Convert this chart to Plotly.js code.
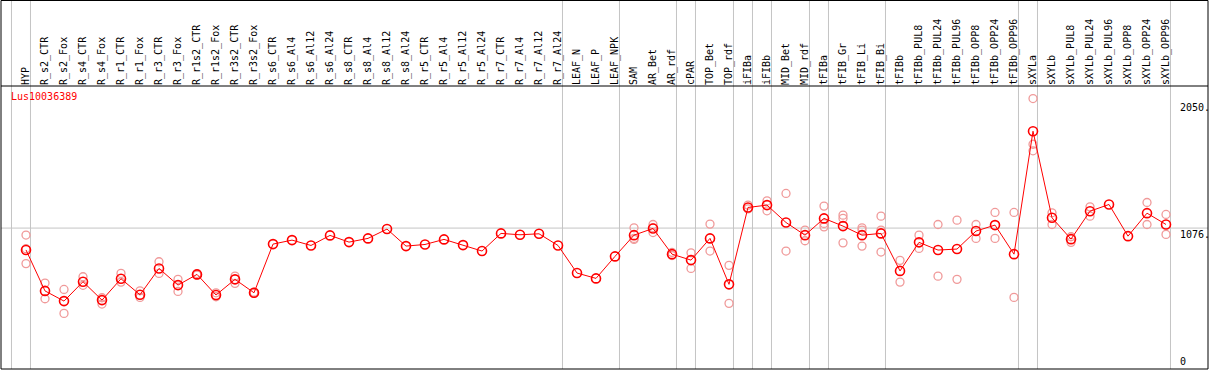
<!DOCTYPE html>
<html>
<head>
<meta charset="utf-8">
<script src="https://cdn.plot.ly/plotly-3.0.1.min.js"></script>
<style>
  html, body { margin: 0; padding: 0; background: #ffffff; }
  #chart { width: 1209px; height: 370px; }
</style>
</head>
<body>
<div id="chart"></div>
<script>
const categories = ["HYP","R_s2_CTR","R_s2_Fox","R_s4_CTR","R_s4_Fox","R_r1_CTR","R_r1_Fox","R_r3_CTR","R_r3_Fox","R_r1s2_CTR","R_r1s2_Fox","R_r3s2_CTR","R_r3s2_Fox","R_s6_CTR","R_s6_Al4","R_s6_Al12","R_s6_Al24","R_s8_CTR","R_s8_Al4","R_s8_Al12","R_s8_Al24","R_r5_CTR","R_r5_Al4","R_r5_Al12","R_r5_Al24","R_r7_CTR","R_r7_Al4","R_r7_Al12","R_r7_Al24","LEAF_N","LEAF_P","LEAF_NPK","SAM","AR_Bet","AR_rdf","cPAR","TOP_Bet","TOP_rdf","iFIBa","iFIBb","MID_Bet","MID_rdf","tFIBa","tFIB_Gr","tFIB_Li","tFIB_Bi","tFIBb","tFIBb_PUL8","tFIBb_PUL24","tFIBb_PUL96","tFIBb_OPP8","tFIBb_OPP24","tFIBb_OPP96","sXYLa","sXYLb","sXYLb_PUL8","sXYLb_PUL24","sXYLb_PUL96","sXYLb_OPP8","sXYLb_OPP24","sXYLb_OPP96"];

const meanValues = [900,570,488,644,496,668,539,751,617,703,537,663,555,947,979,936,1017,963,993,1068,931,944,985,939,891,1033,1022,1030,936,714,671,848,1019,1073,866,818,993,623,1242,1261,1121,1019,1154,1092,1019,1033,731,961,899,907,1052,1100,866,1856,1159,987,1212,1266,1011,1196,1105];

const rep1 = [1020,633,582,684,515,711,571,805,663,710,555,689,560,null,null,null,null,null,null,null,null,null,null,null,null,null,null,null,null,null,null,null,1078,1105,880,877,1108,776,1261,1295,1355,1060,1253,1180,1078,1172,816,1019,1105,1140,1105,1202,1202,2119,1199,1006,1247,null,null,1282,1186];
const rep2 = [790,507,389,615,464,641,518,711,566,697,523,631,550,null,null,null,null,null,null,null,null,null,null,null,null,null,null,null,null,null,null,null,985,1040,855,751,891,470,1230,1215,891,974,1086,957,931,883,641,912,689,663,993,993,518,1698,1105,961,1172,null,null,1105,1025];
const rep3 = [910,null,null,null,null,null,null,null,null,null,null,null,null,null,null,null,null,null,null,null,null,null,null,null,null,null,null,null,null,null,null,null,993,1080,null,null,null,null,null,null,null,null,1113,1154,1060,1060,null,null,null,null,null,null,null,1751,null,null,null,null,null,null,null];

// last category of each group (a separator line follows it)
const groupLast = ["HYP","R_r7_Al24","LEAF_NPK","AR_rdf","cPAR","TOP_rdf","iFIBa","iFIBb","MID_rdf","tFIBa","tFIB_Bi","tFIBb_OPP96","sXYLa","sXYLb_OPP96"];

const geneLabel = "Lus10036389";
const yTickValues = [0, 1076, 2050];
const yTickLabels = ["0", "1076.", "2050."];
const refLineValue = 1076;

const idx = categories.map((c, i) => i);
const mono = "DejaVu Sans Mono, monospace";
const repColor = "#f09a9a";

const repTrace = (vals) => ({
  x: idx, y: vals, type: "scatter", mode: "markers", showlegend: false,
  hoverinfo: "skip",
  marker: { symbol: "circle-open", size: 8, color: repColor, line: { width: 1.3, color: repColor } }
});

const traces = [
  repTrace(rep1), repTrace(rep2), repTrace(rep3),
  {
    x: idx, y: meanValues, type: "scatter", mode: "lines+markers", showlegend: false,
    line: { color: "#ff0000", width: 1 },
    marker: { symbol: "circle-open", size: 9, color: "#ff0000", line: { width: 1.6, color: "#ff0000" } }
  }
];

const topExt = 1 + 85.5 / 283;
const shapes = [];
// separator before first category
const sepOffset = 0.235;
const sepPositions = [-1].concat(groupLast.map(n => categories.indexOf(n)));
sepPositions.forEach(p => {
  shapes.push({ type: "line", xref: "x", yref: "paper", x0: p + sepOffset, x1: p + sepOffset, y0: 0, y1: topExt,
    line: { color: "#c4c4c4", width: 1 }, layer: "below" });
});
shapes.push({ type: "line", xref: "paper", yref: "y", x0: 0, x1: 1, y0: refLineValue, y1: refLineValue,
  line: { color: "#c4c4c4", width: 1 }, layer: "below" });
// outer border and label-area divider
shapes.push({ type: "rect", xref: "paper", yref: "paper", x0: 0, x1: 1, y0: 0, y1: topExt,
  line: { color: "#000000", width: 1 } });
shapes.push({ type: "line", xref: "paper", yref: "paper", x0: 0, x1: 1, y0: 1, y1: 1,
  line: { color: "#000000", width: 1 } });

const annotations = yTickValues.map((v, k) => ({
  xref: "paper", yref: "y", x: (1178 - 1) / 1207, y: v, xanchor: "left",
  yanchor: v === refLineValue ? "top" : "middle", yshift: v === refLineValue ? 1 : 0,
  text: yTickLabels[k], showarrow: false, font: { family: mono, size: 10, color: "#000000" }
}));
annotations.push({
  xref: "paper", yref: "paper", x: (9 - 1) / 1207, y: (369 - 96.7) / 283, xanchor: "left", yanchor: "middle",
  text: geneLabel, showarrow: false, font: { family: mono, size: 10, color: "#ff0000" }
});

const layout = {
  width: 1209, height: 370,
  margin: { l: 1, r: 1, t: 86, b: 1, pad: 0 },
  paper_bgcolor: "#ffffff", plot_bgcolor: "#ffffff",
  showlegend: false,
  xaxis: {
    type: "linear", range: [-1.316, 62.21], side: "top",
    tickmode: "array", tickvals: idx, ticktext: categories,
    tickangle: -90, ticks: "", ticklen: 0, showgrid: false, zeroline: false,
    showline: false, tickfont: { family: mono, size: 10, color: "#000000" }, automargin: false
  },
  yaxis: {
    range: [-58.7, 2220], showgrid: false, zeroline: false, showticklabels: false,
    ticks: "", showline: false, automargin: false
  },
  shapes: shapes,
  annotations: annotations
};

Plotly.newPlot("chart", traces, layout, { displayModeBar: false, staticPlot: true });
</script>
</body>
</html>
